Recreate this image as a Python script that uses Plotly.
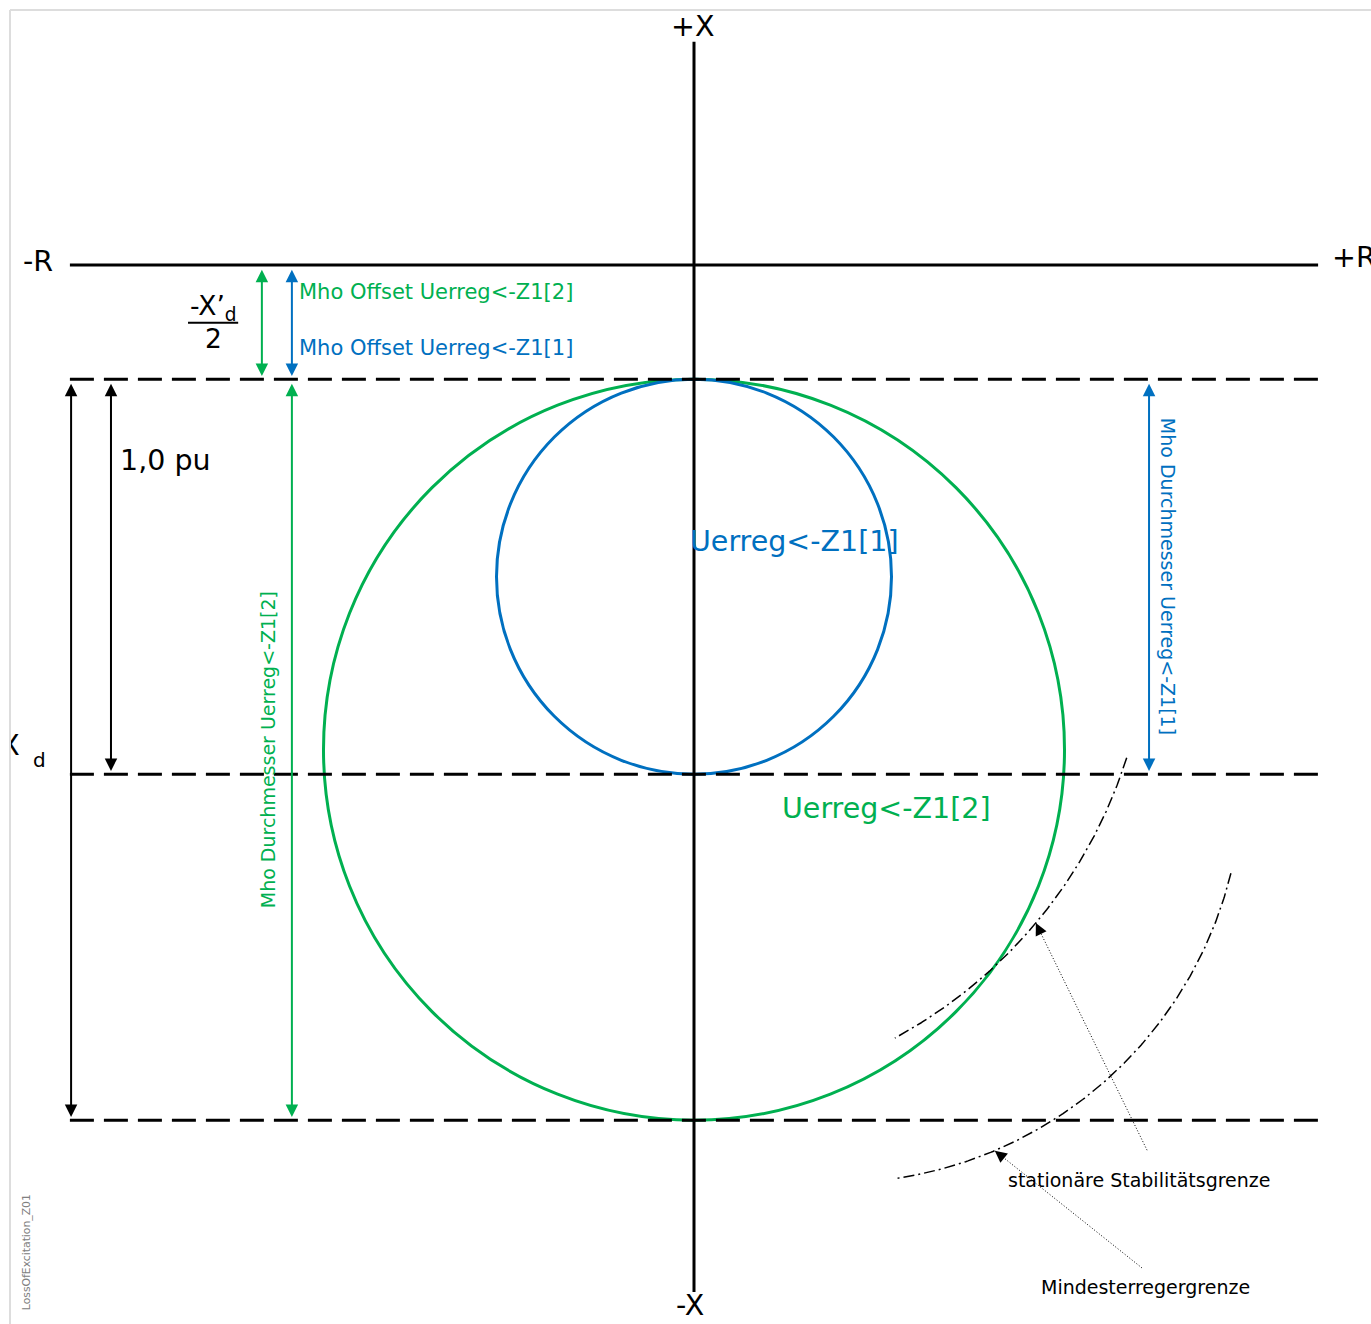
import numpy as np
import plotly.graph_objects as go

# ---------------- data (per unit, impedance plane: x = R, y = X) ----------------
offset_xd_prime_half = 0.289      # -X'd/2 offset of the mho circles below the R axis
diameter_z1_1 = 1.0               # Uerreg<-Z1[1] diameter (1,0 pu)
diameter_z1_2 = 1.876             # Uerreg<-Z1[2] diameter (Xd)
r_axis_extent = [-1.58, 1.58]
x_axis_extent = [0.565, -2.60]

stability_center = [-0.076, -0.876]   # stationaere Stabilitaetsgrenze
stability_radius = 1.229
stability_angles = [-17.6, -61.6]
stability_leader_angle = -40.0

minexc_center = [0.359, -1.294]       # Mindesterregergrenze
minexc_radius = 1.030
minexc_angles = [-13.8, -81.6]
minexc_leader_angle = -67.0

axis_labels = ["+X", "-X", "-R", "+R"]
zone_labels = ["Uerreg<-Z1[1]", "Uerreg<-Z1[2]"]
offset_labels = ["Mho Offset Uerreg<-Z1[2]", "Mho Offset Uerreg<-Z1[1]"]
diameter_labels = ["Mho Durchmesser Uerreg<-Z1[2]", "Mho Durchmesser Uerreg<-Z1[1]"]
limit_labels = ["stationäre Stabilitätsgrenze", "Mindesterregergrenze"]

# ---------------- styling ----------------
GREEN = "#00b050"
BLUE = "#0070c0"
BLACK = "#000000"
FONT = "DejaVu Sans"
BIG = 28.5

W, H = 1371, 1324
ML, MT = 10, 10
PX_PER_PU = 395.0
ORIGIN_PX = (694, 265)
xr = [(ML - ORIGIN_PX[0]) / PX_PER_PU, (W - ORIGIN_PX[0]) / PX_PER_PU]
yr = [(ORIGIN_PX[1] - H) / PX_PER_PU, (ORIGIN_PX[1] - MT) / PX_PER_PU]

y_top = -offset_xd_prime_half
y_1pu = y_top - diameter_z1_1
y_xd = y_top - diameter_z1_2

fig = go.Figure()

# axes of the impedance plane
fig.add_trace(go.Scatter(x=r_axis_extent, y=[0, 0], mode="lines",
                         line=dict(color=BLACK, width=3), hoverinfo="skip"))
fig.add_trace(go.Scatter(x=[0, 0], y=x_axis_extent, mode="lines",
                         line=dict(color=BLACK, width=3), hoverinfo="skip"))

# dashed reference lines
for yy in [y_top, y_1pu, y_xd]:
    fig.add_trace(go.Scatter(x=r_axis_extent, y=[yy, yy], mode="lines",
                             line=dict(color=BLACK, width=3, dash="24px,10px"),
                             hoverinfo="skip"))

# mho circles
for diam, col in [(diameter_z1_2, GREEN), (diameter_z1_1, BLUE)]:
    r = diam / 2
    cy = y_top - r
    fig.add_shape(type="circle", xref="x", yref="y", x0=-r, x1=r, y0=cy - r, y1=cy + r,
                  line=dict(color=col, width=3), layer="below")

# limit arcs
def arc(center, radius, angles):
    t = np.radians(np.linspace(angles[0], angles[1], 200))
    return center[0] + radius * np.cos(t), center[1] + radius * np.sin(t)

for c, r, a in [(stability_center, stability_radius, stability_angles),
                (minexc_center, minexc_radius, minexc_angles)]:
    ax_, ay_ = arc(c, r, a)
    fig.add_trace(go.Scatter(x=ax_, y=ay_, mode="lines",
                             line=dict(color=BLACK, width=1.5, dash="11px,4px,2px,4px"),
                             hoverinfo="skip"))

# dimension arrows
def varrow(x, y0, y1, color):
    fig.add_annotation(x=x, y=y1, ax=x, ay=y0, xref="x", yref="y", axref="x", ayref="y",
                       text="", showarrow=True, arrowside="end+start",
                       arrowhead=2, startarrowhead=2, arrowsize=1.25, startarrowsize=1.25,
                       arrowwidth=2, arrowcolor=color, standoff=0, startstandoff=0)

gap = 0.008
varrow(-1.094, -gap, y_top + gap, GREEN)
varrow(-1.018, -gap, y_top + gap, BLUE)
varrow(-1.018, y_top - gap, y_xd + gap, GREEN)
varrow(-1.577, y_top - gap, y_xd + gap, BLACK)
varrow(-1.476, y_top - gap, y_1pu + gap, BLACK)
varrow(1.152, y_top - gap, y_1pu + gap, BLUE)

# dotted leader lines with arrowheads
leaders = [
    (stability_center, stability_radius, stability_leader_angle, (1.147, -2.241)),
    (minexc_center, minexc_radius, minexc_leader_angle, (1.134, -2.539)),
]
for c, r, ang, tail in leaders:
    hx = c[0] + r * np.cos(np.radians(ang))
    hy = c[1] + r * np.sin(np.radians(ang))
    fig.add_trace(go.Scatter(x=[tail[0], hx], y=[tail[1], hy], mode="lines",
                             line=dict(color=BLACK, width=1, dash="1px,2px"), hoverinfo="skip"))
    dx, dy = tail[0] - hx, tail[1] - hy
    n = np.hypot(dx, dy)
    fig.add_annotation(x=hx, y=hy, xref="x", yref="y", ax=12 * dx / n, ay=-12 * dy / n,
                       text="", showarrow=True, arrowhead=2, arrowsize=2.4,
                       arrowwidth=1, arrowcolor=BLACK, standoff=0)

# clipped "X" of Xd at left edge
fig.add_trace(go.Scatter(x=[xr[0]], y=[-1.223], mode="text", text=["X"],
                         textfont=dict(family=FONT, size=BIG, color=BLACK),
                         textposition="middle center", cliponaxis=True, hoverinfo="skip"))

def label(text, x, y, size, color=BLACK, xanchor="center", angle=0):
    fig.add_annotation(x=x, y=y, xref="x", yref="y", text=text, showarrow=False,
                       xanchor=xanchor, yanchor="middle", textangle=angle,
                       font=dict(family=FONT, size=size, color=color))

label(axis_labels[0], -0.005, 0.603, BIG)
label(axis_labels[1], -0.010, -2.635, BIG)
label(axis_labels[2], -1.661, 0.008, BIG)
label(axis_labels[3], 1.610, 0.020, BIG, xanchor="left")

label("-X’<sub>d</sub>", -1.217, -0.107, 26.5)
label("2", -1.217, -0.187, 26.5)
fig.add_trace(go.Scatter(x=[-1.281, -1.154], y=[-0.1459, -0.1459], mode="lines",
                         line=dict(color=BLACK, width=2), hoverinfo="skip"))

label("1,0 pu", -1.339, -0.496, BIG)
label("d", -1.658, -1.253, 20)

label(offset_labels[0], -1.005, -0.068, 21, GREEN, xanchor="left")
label(offset_labels[1], -1.005, -0.210, 21, BLUE, xanchor="left")
label(zone_labels[0], -0.016, -0.701, BIG, BLUE, xanchor="left")
label(zone_labels[1], 0.217, -1.375, BIG, GREEN, xanchor="left")
label(diameter_labels[0], -1.078, -1.228, 19, GREEN, angle=-90)
label(diameter_labels[1], 1.200, -0.787, 19, BLUE, angle=90)
label(limit_labels[0], 1.129, -2.316, 19)
label(limit_labels[1], 1.142, -2.587, 19)
label("LossOfExcitation_Z01", -1.691, -2.499, 10.8, "#808080", angle=-90)

# light frame (top and left)
fig.add_shape(type="line", xref="paper", yref="paper", x0=0, x1=1, y0=1, y1=1,
              line=dict(color="#dddddd", width=2))
fig.add_shape(type="line", xref="paper", yref="paper", x0=0, x1=0, y0=0, y1=1,
              line=dict(color="#dddddd", width=2))

fig.update_layout(
    width=W, height=H, showlegend=False,
    margin=dict(l=ML, r=0, t=MT, b=0, pad=0),
    paper_bgcolor="white", plot_bgcolor="white",
    xaxis=dict(range=xr, visible=False, fixedrange=True),
    yaxis=dict(range=yr, visible=False, fixedrange=True),
)

fig.write_html("out.html", config={"displayModeBar": False},
               post_script="document.body.style.margin='0';document.body.style.overflow='hidden';")
